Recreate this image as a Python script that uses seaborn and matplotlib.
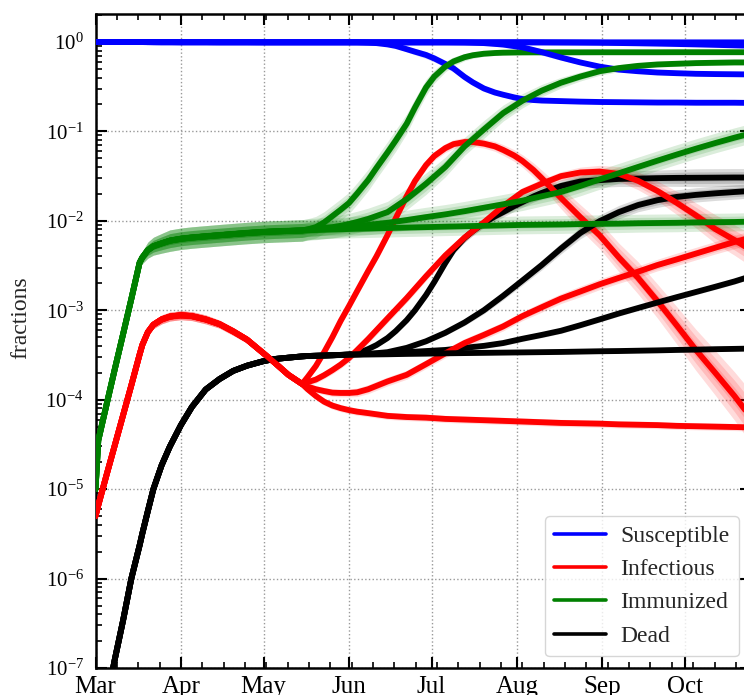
import numpy as np
import pandas as pd
import matplotlib
matplotlib.use("Agg")
import matplotlib.pyplot as plt
import matplotlib.dates as mdates
from matplotlib.ticker import AutoMinorLocator, LogLocator, NullFormatter
from matplotlib.lines import Line2D
import seaborn as sns

# COMMON PART (all scenarios share it until mid May)
early_dates = ["2020-03-01", "2020-03-02", "2020-03-05", "2020-03-08", "2020-03-11", "2020-03-14",
               "2020-03-17", "2020-03-18", "2020-03-20", "2020-03-22", "2020-03-25", "2020-03-28",
               "2020-04-01", "2020-04-05", "2020-04-10", "2020-04-15", "2020-04-20", "2020-04-25",
               "2020-05-01", "2020-05-05", "2020-05-10", "2020-05-15"]

early_sus = [1.0, 1.0, 1.0, 1.0, 1.0, 0.999, 0.997, 0.996, 0.995, 0.994, 0.993, 0.993,
             0.992, 0.992, 0.992, 0.991, 0.991, 0.991, 0.99, 0.99, 0.99, 0.99]
early_inf = [5.0e-6, 6.6e-6, 1.44e-5, 3.1e-5, 6.7e-5, 1.45e-4, 3.2e-4, 4.1e-4, 5.7e-4, 6.9e-4, 7.9e-4, 8.5e-4,
             8.8e-4, 8.6e-4, 7.9e-4, 7.0e-4, 5.8e-4, 4.7e-4, 3.3e-4, 2.6e-4, 1.9e-4, 1.5e-4]
early_imm = [1.0e-5, 3.5e-5, 8.8e-5, 2.2e-4, 5.4e-4, 1.34e-3, 3.4e-3, 3.9e-3, 4.7e-3, 5.2e-3, 5.6e-3, 6.0e-3,
             6.3e-3, 6.5e-3, 6.7e-3, 6.9e-3, 7.1e-3, 7.3e-3, 7.5e-3, 7.6e-3, 7.7e-3, 7.8e-3]
early_dead = [1.2e-8, 1.6e-8, 4.3e-8, 1.25e-7, 3.4e-7, 1.0e-6, 2.35e-6, 3.2e-6, 5.7e-6, 1.0e-5, 1.85e-5, 3.0e-5,
              5.2e-5, 8.3e-5, 1.3e-4, 1.7e-4, 2.1e-4, 2.4e-4, 2.7e-4, 2.85e-4, 2.95e-4, 3.05e-4]

# uncertainty half widths (in decades)
early_sus_err = 0.004
early_inf_err = [0.07, 0.06, 0.05, 0.045, 0.04, 0.04, 0.04, 0.04, 0.04, 0.045, 0.05, 0.05,
                 0.05, 0.05, 0.05, 0.045, 0.045, 0.04, 0.04, 0.04, 0.04, 0.04]
early_imm_err = [0.03, 0.03, 0.03, 0.03, 0.03, 0.03, 0.04, 0.07, 0.09, 0.1, 0.11, 0.12,
                 0.12, 0.12, 0.12, 0.12, 0.12, 0.12, 0.12, 0.12, 0.12, 0.12]
early_dead_err = 0.02

# SCENARIO A (fast second wave), finer dates because it bends quickly
late_dates_a = ["2020-05-17", "2020-05-20", "2020-05-23", "2020-05-26", "2020-05-29",
                "2020-06-01", "2020-06-04", "2020-06-08", "2020-06-11", "2020-06-15", "2020-06-18",
                "2020-06-22", "2020-06-25", "2020-06-29",
                "2020-07-02", "2020-07-06", "2020-07-09", "2020-07-13", "2020-07-16", "2020-07-20",
                "2020-07-24", "2020-07-27", "2020-07-31",
                "2020-08-03", "2020-08-07", "2020-08-10", "2020-08-17", "2020-08-24", "2020-08-31",
                "2020-09-07", "2020-09-14", "2020-09-21", "2020-09-28",
                "2020-10-05", "2020-10-12", "2020-10-19", "2020-10-25"]

sus_a = [0.99, 0.99, 0.99, 0.99, 0.99,
         0.99, 0.99, 0.98, 0.97, 0.938, 0.902, 0.829, 0.777, 0.715,
         0.654, 0.567, 0.505, 0.406, 0.353, 0.302, 0.272, 0.257, 0.24,
         0.23, 0.224, 0.221, 0.218, 0.215, 0.213,
         0.212, 0.211, 0.21, 0.21, 0.209, 0.209, 0.209, 0.208]
inf_a = [1.79e-4, 2.38e-4, 3.4e-4, 5.0e-4, 7.6e-4,
         1.11e-3, 1.64e-3, 2.75e-3, 4.0e-3, 6.9e-3, 0.0107, 0.0189, 0.0279, 0.042,
         0.053, 0.065, 0.072, 0.076, 0.076, 0.073, 0.068, 0.062, 0.0537,
         0.0467, 0.037, 0.030, 0.018, 0.011, 6.9e-3,
         3.9e-3, 2.3e-3, 1.27e-3, 6.8e-4, 3.6e-4, 2.0e-4, 1.1e-4, 6.3e-5]
imm_a = [8.0e-3, 8.5e-3, 9.6e-3, 0.0113, 0.0133,
         0.0158, 0.0202, 0.0286, 0.039, 0.058, 0.079, 0.122, 0.185, 0.31,
         0.41, 0.53, 0.605, 0.675, 0.71, 0.738, 0.752, 0.758, 0.761,
         0.763, 0.764, 0.764, 0.765, 0.765, 0.766,
         0.766, 0.766, 0.766, 0.767, 0.767, 0.767, 0.767, 0.767]
dead_a = [3.08e-4, 3.1e-4, 3.12e-4, 3.14e-4, 3.16e-4,
          3.2e-4, 3.28e-4, 3.68e-4, 4.08e-4, 4.89e-4, 5.85e-4, 7.76e-4, 1.0e-3, 1.48e-3,
          2.07e-3, 3.37e-3, 4.71e-3, 6.42e-3, 7.69e-3, 9.45e-3, 0.0112, 0.0125, 0.0146,
          0.0162, 0.0187, 0.0205, 0.0245, 0.0275, 0.0285,
          0.0294, 0.0297, 0.030, 0.0302, 0.0303, 0.0304, 0.0305, 0.0305]

sus_a_err = [0.005, 0.005, 0.005, 0.005, 0.005,
             0.005, 0.005, 0.008, 0.012, 0.018, 0.024, 0.03, 0.035, 0.04,
             0.04, 0.04, 0.04, 0.04, 0.037, 0.034, 0.03, 0.026, 0.022,
             0.018, 0.015, 0.013, 0.01, 0.01, 0.01,
             0.01, 0.01, 0.01, 0.01, 0.01, 0.01, 0.01, 0.01]
inf_a_err = [0.04, 0.04, 0.045, 0.045, 0.05,
             0.05, 0.05, 0.05, 0.05, 0.05, 0.05, 0.05, 0.05, 0.05,
             0.05, 0.05, 0.05, 0.05, 0.05, 0.05, 0.055, 0.06, 0.065,
             0.07, 0.08, 0.09, 0.12, 0.14, 0.15,
             0.16, 0.18, 0.19, 0.21, 0.23, 0.25, 0.27, 0.29]
imm_a_err = [0.12, 0.12, 0.12, 0.12, 0.12,
             0.12, 0.12, 0.12, 0.12, 0.12, 0.12, 0.11, 0.1, 0.09,
             0.075, 0.06, 0.05, 0.04, 0.035, 0.03, 0.027, 0.025, 0.022,
             0.02, 0.02, 0.02, 0.02, 0.02, 0.02,
             0.02, 0.02, 0.02, 0.02, 0.02, 0.02, 0.02, 0.02]
dead_a_err = [0.02, 0.02, 0.02, 0.02, 0.02,
              0.02, 0.02, 0.022, 0.025, 0.028, 0.03, 0.033, 0.036, 0.04,
              0.042, 0.045, 0.047, 0.05, 0.05, 0.052, 0.054, 0.056, 0.058,
              0.06, 0.063, 0.065, 0.07, 0.075, 0.08,
              0.085, 0.09, 0.09, 0.095, 0.1, 0.1, 0.1, 0.1]

# SCENARIOS B, C, D (denser right after the split, then weekly)
late_dates = ["2020-05-17", "2020-05-20", "2020-05-23", "2020-05-26", "2020-05-29",
              "2020-06-01", "2020-06-04", "2020-06-08", "2020-06-15", "2020-06-22",
              "2020-06-29", "2020-07-06", "2020-07-13", "2020-07-20", "2020-07-27", "2020-08-03",
              "2020-08-10", "2020-08-17", "2020-08-24", "2020-08-31", "2020-09-07", "2020-09-14",
              "2020-09-21", "2020-09-28", "2020-10-05", "2020-10-12", "2020-10-19", "2020-10-25"]

sus_b = [0.99, 0.99, 0.99, 0.99, 0.99, 0.99, 0.99, 0.99, 0.99, 0.99,
         0.99, 0.99, 0.985, 0.97, 0.935, 0.87,
         0.77, 0.67, 0.59, 0.53, 0.49, 0.47, 0.455, 0.447, 0.44, 0.437, 0.435, 0.433]
sus_c = [0.99, 0.99, 0.99, 0.99, 0.99, 0.99, 0.99, 0.99, 0.99, 0.99,
         0.99, 0.99, 0.99, 0.99, 0.99, 0.99,
         0.988, 0.985, 0.982, 0.978, 0.972, 0.965, 0.957, 0.948, 0.938, 0.927, 0.915, 0.905]
sus_d = [0.99, 0.99, 0.99, 0.99, 0.99, 0.99, 0.99, 0.99, 0.99, 0.99,
         0.99, 0.99, 0.99, 0.99, 0.99, 0.99,
         0.99, 0.99, 0.99, 0.99, 0.99, 0.99, 0.99, 0.989, 0.989, 0.989, 0.989, 0.989]

inf_b = [1.57e-4, 1.68e-4, 1.88e-4, 2.14e-4, 2.47e-4, 2.92e-4, 3.59e-4, 4.77e-4, 8.1e-4, 1.37e-3,
         2.4e-3, 4.1e-3, 6.5e-3, 9.6e-3, 0.0146, 0.021,
         0.026, 0.0316, 0.0347, 0.0355, 0.0335, 0.028, 0.0216, 0.0159, 0.0115, 8.1e-3, 6.1e-3, 4.7e-3]
inf_c = [1.40e-4, 1.31e-4, 1.25e-4, 1.2e-4, 1.19e-4, 1.19e-4, 1.21e-4, 1.31e-4, 1.6e-4, 1.9e-4,
         2.5e-4, 3.3e-4, 4.3e-4, 5.3e-4, 6.6e-4, 8.6e-4,
         1.08e-3, 1.35e-3, 1.62e-3, 1.95e-3, 2.3e-3, 2.7e-3, 3.2e-3, 3.7e-3, 4.3e-3, 5.0e-3, 5.8e-3, 6.5e-3]
inf_d = [1.31e-4, 1.1e-4, 9.5e-5, 8.6e-5, 8.05e-5, 7.65e-5, 7.35e-5, 7.08e-5, 6.6e-5, 6.4e-5,
         6.3e-5, 6.1e-5, 6.0e-5, 5.9e-5, 5.8e-5, 5.7e-5,
         5.6e-5, 5.5e-5, 5.45e-5, 5.4e-5, 5.3e-5, 5.25e-5, 5.2e-5, 5.1e-5, 5.05e-5, 5.0e-5, 4.95e-5, 4.9e-5]

imm_b = [8.0e-3, 8.1e-3, 8.3e-3, 8.5e-3, 8.8e-3, 9.2e-3, 9.7e-3, 0.0105, 0.0125, 0.0175,
         0.026, 0.040, 0.068, 0.105, 0.16, 0.22,
         0.285, 0.35, 0.41, 0.47, 0.51, 0.54, 0.56, 0.57, 0.58, 0.585, 0.59, 0.59]
imm_c = [7.9e-3, 8.0e-3, 8.15e-3, 8.3e-3, 8.45e-3, 8.6e-3, 8.8e-3, 9.0e-3, 9.5e-3, 0.0102,
         0.011, 0.0118, 0.0128, 0.014, 0.0153, 0.0168,
         0.0188, 0.021, 0.0245, 0.029, 0.034, 0.040, 0.047, 0.055, 0.064, 0.074, 0.085, 0.095]
imm_d = [7.85e-3, 7.9e-3, 7.95e-3, 8.0e-3, 8.05e-3, 8.1e-3, 8.15e-3, 8.2e-3, 8.3e-3, 8.4e-3,
         8.5e-3, 8.6e-3, 8.7e-3, 8.8e-3, 8.9e-3, 9.0e-3,
         9.05e-3, 9.1e-3, 9.2e-3, 9.25e-3, 9.3e-3, 9.4e-3, 9.45e-3, 9.5e-3, 9.6e-3, 9.65e-3, 9.7e-3, 9.8e-3]

dead_b = [3.08e-4, 3.1e-4, 3.12e-4, 3.14e-4, 3.17e-4, 3.2e-4, 3.22e-4, 3.25e-4, 3.4e-4, 3.8e-4,
          4.5e-4, 5.6e-4, 7.3e-4, 1.0e-3, 1.45e-3, 2.15e-3,
          3.2e-3, 4.9e-3, 7.3e-3, 9.9e-3, 0.0125, 0.015, 0.017, 0.0185, 0.0195, 0.0203, 0.021, 0.0216]
dead_c = [3.08e-4, 3.1e-4, 3.12e-4, 3.14e-4, 3.17e-4, 3.2e-4, 3.22e-4, 3.25e-4, 3.3e-4, 3.4e-4,
          3.5e-4, 3.6e-4, 3.8e-4, 4.0e-4, 4.3e-4, 4.8e-4,
          5.3e-4, 5.9e-4, 6.8e-4, 7.9e-4, 9.2e-4, 1.06e-3, 1.22e-3, 1.4e-3, 1.6e-3, 1.83e-3, 2.1e-3, 2.4e-3]
dead_d = [3.08e-4, 3.1e-4, 3.12e-4, 3.14e-4, 3.16e-4, 3.18e-4, 3.19e-4, 3.2e-4, 3.22e-4, 3.25e-4,
          3.27e-4, 3.3e-4, 3.32e-4, 3.34e-4, 3.36e-4, 3.38e-4,
          3.4e-4, 3.42e-4, 3.45e-4, 3.48e-4, 3.5e-4, 3.53e-4, 3.56e-4, 3.6e-4, 3.63e-4, 3.67e-4, 3.7e-4, 3.73e-4]

sus_b_err = [0.005, 0.005, 0.005, 0.005, 0.005, 0.005, 0.005, 0.005, 0.005, 0.005,
             0.005, 0.005, 0.01, 0.02, 0.03, 0.035,
             0.035, 0.03, 0.025, 0.02, 0.015, 0.012, 0.01, 0.01, 0.01, 0.01, 0.01, 0.01]
sus_c_err = 0.006
sus_d_err = 0.005

inf_b_err = [0.04, 0.04, 0.04, 0.042, 0.044, 0.045, 0.048, 0.05, 0.05, 0.05,
             0.05, 0.05, 0.05, 0.05, 0.05, 0.05,
             0.05, 0.05, 0.06, 0.07, 0.08, 0.1, 0.11, 0.13, 0.14, 0.16, 0.17, 0.18]
inf_c_err = [0.04, 0.04, 0.04, 0.042, 0.044, 0.045, 0.048, 0.05, 0.05, 0.05,
             0.05, 0.05, 0.05, 0.05, 0.05, 0.05,
             0.055, 0.055, 0.06, 0.06, 0.06, 0.065, 0.065, 0.07, 0.07, 0.07, 0.075, 0.075]
inf_d_err = 0.04

imm_b_err = [0.12, 0.12, 0.12, 0.12, 0.12, 0.12, 0.12, 0.12, 0.12, 0.12,
             0.12, 0.11, 0.1, 0.1, 0.09, 0.08,
             0.07, 0.06, 0.05, 0.045, 0.04, 0.035, 0.03, 0.03, 0.03, 0.03, 0.03, 0.03]
imm_c_err = 0.11
imm_d_err = 0.1

dead_b_err = [0.02, 0.02, 0.02, 0.02, 0.02, 0.02, 0.02, 0.02, 0.02, 0.025,
              0.03, 0.03, 0.035, 0.04, 0.045, 0.05,
              0.055, 0.06, 0.065, 0.07, 0.075, 0.075, 0.08, 0.08, 0.08, 0.08, 0.08, 0.08]
dead_c_err = 0.03
dead_d_err = 0.02

labels = ["Susceptible", "Infectious", "Immunized", "Dead"]
colors = ["blue", "red", "green", "black"]

early = [(early_sus, early_sus_err), (early_inf, early_inf_err),
         (early_imm, early_imm_err), (early_dead, early_dead_err)]
scenarios = [
    (late_dates_a, [(sus_a, sus_a_err), (inf_a, inf_a_err), (imm_a, imm_a_err), (dead_a, dead_a_err)]),
    (late_dates, [(sus_b, sus_b_err), (inf_b, inf_b_err), (imm_b, imm_b_err), (dead_b, dead_b_err)]),
    (late_dates, [(sus_c, sus_c_err), (inf_c, inf_c_err), (imm_c, imm_c_err), (dead_c, dead_c_err)]),
    (late_dates, [(sus_d, sus_d_err), (inf_d, inf_d_err), (imm_d, imm_d_err), (dead_d, dead_d_err)]),
]

# STYLE
sns.set_theme(style="ticks")
plt.rcParams['font.family'] = ['Liberation Serif', 'DejaVu Serif']
plt.rcParams['mathtext.fontset'] = 'stix'
plt.rcParams['axes.edgecolor'] = 'black'
plt.rcParams['xtick.color'] = 'black'
plt.rcParams['ytick.color'] = 'black'

fig = plt.figure(figsize=(7.44, 6.95), dpi=100)
ax = fig.add_axes([0.1284, 0.0388, 0.881, 0.941])

n_early = len(early_dates)
draw_order = [0, 2, 3, 1]

# BANDS first, then lines on top
for ldates, comps in scenarios:
    dates = pd.to_datetime(early_dates + ldates)
    for k in draw_order:
        ev, ee = early[k]
        lv, le = comps[k]
        vals = np.array(ev + lv)
        err = np.concatenate([np.broadcast_to(ee, n_early), np.broadcast_to(le, len(ldates))])
        for frac in (1.0, 0.65, 0.35):
            ax.fill_between(dates, vals / 10 ** (err * frac), vals * 10 ** (err * frac),
                            color=colors[k], alpha=0.14, lw=0, zorder=1)

for ldates, comps in scenarios:
    dates = pd.to_datetime(early_dates + ldates)
    for k in draw_order:
        vals = np.array(early[k][0] + comps[k][0])
        sns.lineplot(x=dates, y=vals, color=colors[k], lw=4.2, ax=ax,
                     estimator=None, sort=False, zorder=3, solid_joinstyle='round')

# AXES
ax.set_yscale('log')
ax.set_ylim(1e-7, 2.05)
ax.set_xlim(pd.Timestamp("2020-03-01"), pd.Timestamp("2020-10-25"))
ax.yaxis.set_major_locator(LogLocator(base=10, numticks=15))
ax.yaxis.set_minor_locator(LogLocator(base=10, subs=np.arange(2, 10), numticks=15))
ax.yaxis.set_minor_formatter(NullFormatter())
ax.xaxis.set_major_locator(mdates.MonthLocator())
ax.xaxis.set_major_formatter(mdates.DateFormatter('%b'))
ax.xaxis.set_minor_locator(AutoMinorLocator(4))

ax.tick_params(which='both', direction='in', top=True, right=True, bottom=True, left=True)
ax.tick_params(which='major', length=8, width=1.5)
ax.tick_params(which='minor', length=4.5, width=1.2)
ax.tick_params(axis='x', labelsize=18, pad=6)
ax.tick_params(axis='y', labelsize=15, pad=8.5)
for sp in ax.spines.values():
    sp.set_linewidth(1.8)
    sp.set_color('black')

ax.grid(True, which='major', ls=':', lw=1.0, color='0.6')
ax.set_xlabel('')
ax.set_ylabel('fractions', fontsize=17)
ax.yaxis.set_label_coords(-0.098, 0.535)

handles = [Line2D([0], [0], color=c, lw=2.6) for c in colors]
ax.legend(handles, labels, loc='lower right', fontsize=17, handlelength=2.2,
          handletextpad=0.6, framealpha=0.8)

fig.savefig("out.png", dpi=100)
